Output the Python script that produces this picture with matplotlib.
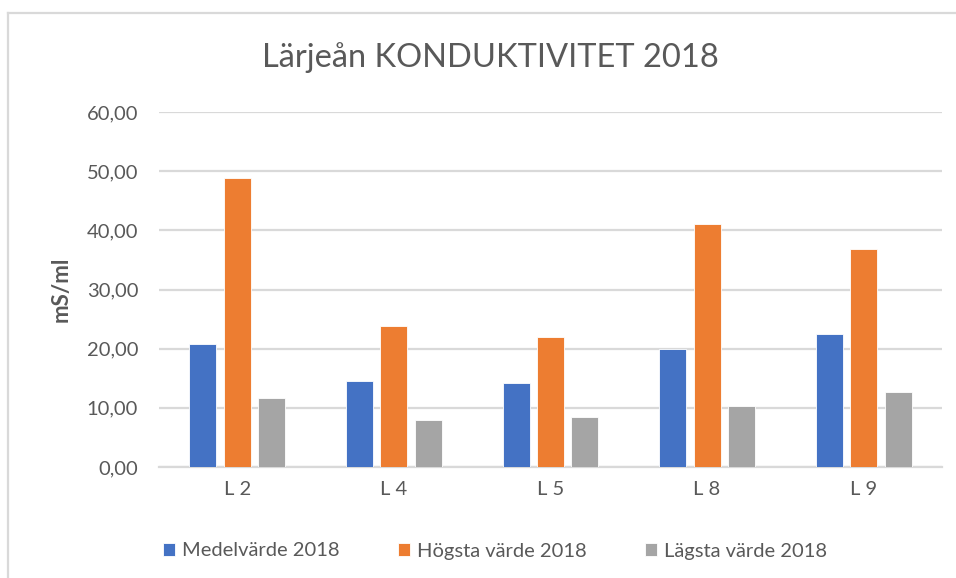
import numpy as np
import matplotlib.pyplot as plt
from matplotlib.lines import Line2D

plt.rcParams['font.family'] = ['Lato', 'DejaVu Sans']

categories = ['L 2', 'L 4', 'L 5', 'L 8', 'L 9']
medel = [20.8, 14.6, 14.2, 19.9, 22.5]
hogsta = [48.9, 23.8, 22.0, 41.1, 36.9]
lagsta = [11.7, 7.9, 8.5, 10.3, 12.7]
series_names = ['Medelvärde 2018', 'Högsta värde 2018', 'Lägsta värde 2018']
colors = ['#4472C4', '#ED7D31', '#A5A5A5']
yticks = [0, 10, 20, 30, 40, 50, 60]

txt = '#595959'
grid = '#d9d9d9'

fig = plt.figure(figsize=(9.56, 5.78), dpi=100)
# chart area border: only top and left visible in the crop
top = 1 - 13/578
left = 8/956
fig.lines.append(Line2D([left, 1], [top, top], transform=fig.transFigure,
                        color=grid, linewidth=1.6))
fig.lines.append(Line2D([left, left], [0, top], transform=fig.transFigure,
                        color=grid, linewidth=1.6))

ax = fig.add_axes([159/956, 1 - 467/578, 783/956, 355/578])
x = np.arange(len(categories))
width = 0.172
offset = 0.22
handles = []
for i, vals in enumerate([medel, hogsta, lagsta]):
    b = ax.bar(x + (i - 1) * offset, vals, width=width, color=colors[i],
               edgecolor='white', linewidth=0.6, label=series_names[i], zorder=3)
    handles.append(b)

ax.set_xlim(-0.5, len(categories) - 0.5)
ax.set_ylim(0, 60)
ax.set_yticks(yticks)
ax.set_yticklabels([f'{v:.2f}'.replace('.', ',') for v in yticks])
ax.set_xticks(x)
ax.set_xticklabels(categories)
ax.tick_params(axis='both', length=0, colors=txt, labelsize=14.5)
ax.tick_params(axis='y', pad=15)
ax.tick_params(axis='x', pad=10)
ax.yaxis.grid(True, color=grid, linewidth=1.6, zorder=0)
for s in ['top', 'right', 'left']:
    ax.spines[s].set_visible(False)
ax.spines['bottom'].set_color(grid)
ax.spines['bottom'].set_linewidth(1.6)

ax.set_ylabel('mS/ml', color=txt, fontsize=16, fontweight='bold', labelpad=11)
fig.text(490/956, 1 - 58/578, 'Lärjeån KONDUKTIVITET 2018', ha='center',
         va='center', fontsize=23.5, color=txt)

fig.legend(handles=handles, loc='center', bbox_to_anchor=(495/956, 1 - 551/578),
           ncol=3, frameon=False, fontsize=14.5, handlelength=0.6, handleheight=0.6,
           handletextpad=0.35, columnspacing=2.9, labelcolor=txt)

fig.savefig('out.png', dpi=100)
